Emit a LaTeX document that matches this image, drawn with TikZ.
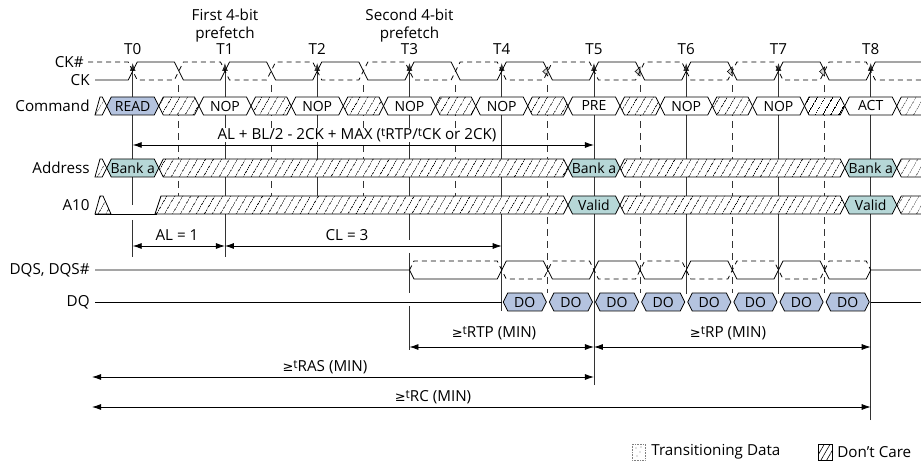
\documentclass[tikz,border=0pt]{standalone}
\usepackage{fontspec}
\setmainfont{Open Sans}
\newfontfamily\symfont{DejaVu Sans}
\usepackage{tikz}
\usetikzlibrary{arrows.meta, patterns.meta, positioning}

\definecolor{cmdblue}{HTML}{B4C3DF}
\definecolor{bankteal}{HTML}{B6D7D7}

\def\tzero{132.7}
\def\tper{92.25}
\def\thalf{46.125}
\newcommand{\sigbox}[3]{({#1},#3) -- ({#1+4.5},{#3-9}) -- ({#2-4.5},{#3-9}) -- ({#2},#3) -- ({#2-4.5},{#3+9}) -- ({#1+4.5},{#3+9}) -- cycle}
\newcommand{\tpre}{\raisebox{.35ex}{\fontsize{12}{12}\selectfont t}}
\newcommand{\gemin}{{\symfont\fontsize{13}{13}\selectfont ≥}}

\begin{document}
\begin{tikzpicture}[x=1pt, y=-1pt, line width=0.8pt,
    lbl/.style={anchor=east, inner sep=0pt, font=\fontsize{15.2}{18}\selectfont},
    txt/.style={inner sep=1pt, font=\fontsize{15.2}{18}\selectfont},
    boxtxt/.style={inner sep=0pt, font=\fontsize{14}{16}\selectfont},
    dontcare/.style={draw, preaction={fill=white}, pattern={Lines[angle=60, distance=6.5pt, line width=0.6pt]}},
    edgemark/.style={black!80, -{Latex[length=8pt, width=6pt]}},
    halfmark/.style={black!80, dash pattern=on 7pt off 5pt},
    dim/.style={{Latex[length=9pt, width=6pt]}-{Latex[length=9pt, width=6pt]}}
]
\useasboundingbox (0,0) rectangle (921,462);

% Clock edges
\foreach \n in {0,...,8} \coordinate (T\n) at ({\tzero+\n*\tper},0);
\foreach \n in {0,...,8} \node[txt] (lbT\n) at ({\tzero+\n*\tper},49) {T\n};
\node[txt, align=center] (pf1) at (T1 |- 0,26) {First 4-bit\\prefetch};
\node[txt, align=center] (pf2) at (T3 |- 0,26) {Second 4-bit\\prefetch};

% Reference lines
\foreach \n/\e in {1/257,2/196,4/311,5/385,6/294,7/294,8/420}
  \draw[edgemark] (T\n |- 0,\e) -- (T\n |- 0,63);
\draw[edgemark] (T0 |- 0,205) -- (T0 |- 0,63);
\draw[black!80] (T0 |- 0,220) -- (T0 |- 0,257);
\draw[edgemark] (T3 |- 0,240) -- (T3 |- 0,63);
\draw[black!80] (T3 |- 0,253) -- (T3 |- 0,293) (T3 |- 0,306) -- (T3 |- 0,350);
\foreach \n/\e in {0/196,1/196,2/196,3/196,4/293,5/293,6/293,7/293}
  \draw[halfmark] ({\tzero+(\n+0.5)*\tper},85) -- ({\tzero+(\n+0.5)*\tper},\e);
\foreach \n in {4,...,7}
  \draw[fill=gray!35, line width=0.5pt] ({\tzero+(\n+0.5)*\tper},67) -- ++(0,9) -- ++(-5,-4.5) -- cycle;

% Row labels
\node[lbl] (lck2) at (84,62) {CK\#};
\node[lbl] (lck) at (90,80) {CK};
\node[lbl] (lcmd) at (90,106) {Command};
\node[lbl] (ladr) at (90,168) {Address};
\node[lbl] (la10) at (90,205) {A10};
\node[lbl] (ldqs) at (90,270) {DQS, DQS\#};
\node[lbl] (ldq) at (90,302) {DQ};

% CK and CK#
\draw (95,80) \foreach \n in {0,...,7} { -- ({\tzero+\n*\tper-4.5},80) -- ({\tzero+\n*\tper+4.5},62) -- ({\tzero+(\n+.5)*\tper-4.5},62) -- ({\tzero+(\n+.5)*\tper+4.5},80) } -- ({\tzero+8*\tper-4.5},80) -- ({\tzero+8*\tper+4.5},62) -- (921,62);
\draw[dash pattern=on 5pt off 4pt] (88,62) \foreach \n in {0,...,7} { -- ({\tzero+\n*\tper-4.5},62) -- ({\tzero+\n*\tper+4.5},80) -- ({\tzero+(\n+.5)*\tper-4.5},80) -- ({\tzero+(\n+.5)*\tper+4.5},62) } -- ({\tzero+8*\tper-4.5},62) -- ({\tzero+8*\tper+4.5},80) -- (921,80);

% Command
\path[dontcare] (95,115) -- (100,97) -- ({\tzero-30.5},97) -- ({\tzero-26},106) -- ({\tzero-30.5},115) -- cycle;
\foreach \n in {0,...,8} \path[dontcare] \sigbox{\tzero+\n*\tper+26}{\tzero+(\n+1)*\tper-26}{106};
\foreach \n/\t/\f in {0/READ/cmdblue,1/NOP/white,2/NOP/white,3/NOP/white,4/NOP/white,5/PRE/white,6/NOP/white,7/NOP/white,8/ACT/white} {
  \draw[fill=\f] \sigbox{\tzero+\n*\tper-26}{\tzero+\n*\tper+26}{106};
  \node[boxtxt] (cmd\n) at ({\tzero+\n*\tper},106) {\t};
}

% Address
\path[dontcare] (95,177) -- (100,159) -- ({\tzero-30.5},159) -- ({\tzero-26},168) -- ({\tzero-30.5},177) -- cycle;
\path[dontcare] \sigbox{\tzero+26}{\tzero+5*\tper-26}{168};
\path[dontcare] \sigbox{\tzero+5*\tper+26}{\tzero+8*\tper-26}{168};
\path[dontcare] \sigbox{\tzero+8*\tper+26}{\tzero+9*\tper}{168};
\foreach \n in {0,5,8} {
  \draw[fill=bankteal] \sigbox{\tzero+\n*\tper-26}{\tzero+\n*\tper+26}{168};
  \node[boxtxt] (adr\n) at ({\tzero+\n*\tper},168) {Bank a};
}

% A10
\path[dontcare] (95,214) -- (100,196) -- (103,196) -- (111,214) -- cycle;
\draw (95,214) -- (157,214);
\path[dontcare] (155,214) -- (161,196) -- ({\tzero+5*\tper-30.5},196) -- ({\tzero+5*\tper-26},205) -- ({\tzero+5*\tper-30.5},214) -- cycle;
\path[dontcare] \sigbox{\tzero+5*\tper+26}{\tzero+8*\tper-26}{205};
\path[dontcare] \sigbox{\tzero+8*\tper+26}{\tzero+9*\tper}{205};
\foreach \n in {5,8} {
  \draw[fill=bankteal] \sigbox{\tzero+\n*\tper-26}{\tzero+\n*\tper+26}{205};
  \node[boxtxt] (a10v\n) at ({\tzero+\n*\tper},205) {Valid};
}

% DQS, DQS#
\draw (95,270) -- (T3 |- 0,270) -- ({\tzero+3*\tper+4.5},279) -- ({\tzero+4*\tper-4.5},279)
  \foreach \k/\lv in {0/261,1/279,2/261,3/279,4/261,5/279,6/261,7/279} { -- ({\tzero+4*\tper+\k*\thalf+4.5},\lv) -- ({\tzero+4*\tper+(\k+1)*\thalf-4.5},\lv) }
  -- (T8 |- 0,270) -- (921,270);
\draw[dash pattern=on 5pt off 4pt] (T3 |- 0,270) -- ({\tzero+3*\tper+4.5},261) -- ({\tzero+4*\tper-4.5},261)
  \foreach \k/\lv in {0/279,1/261,2/279,3/261,4/279,5/261,6/279,7/261} { -- ({\tzero+4*\tper+\k*\thalf+4.5},\lv) -- ({\tzero+4*\tper+(\k+1)*\thalf-4.5},\lv) }
  -- (T8 |- 0,270);

% DQ
\draw (95,302) -- (T4 |- 0,302);
\draw (T8 |- 0,302) -- (921,302);
\foreach \k in {0,...,7} {
  \draw[fill=cmdblue] \sigbox{\tzero+4*\tper+\k*\thalf+1.5}{\tzero+4*\tper+(\k+1)*\thalf-1.5}{302};
  \node[boxtxt] (do\k) at ({\tzero+4*\tper+(\k+0.5)*\thalf},302) {DO};
}

% Timing parameters
\draw[dim] (T0 |- 0,145) -- (T5 |- 0,145);
\node[txt, fill=white, inner sep=0.5pt] (tmax) at (357,135) {AL + BL/2 - 2CK + MAX (\tpre RTP/\tpre CK or 2CK)};
\draw[dim] (T0 |- 0,246) -- (T1 |- 0,246);
\node[txt] (tal) at (177,235) {AL = 1};
\draw[dim] (T1 |- 0,246) -- (T4 |- 0,246);
\node[txt] (tcl) at (347,235) {CL = 3};
\draw[dim] (T3 |- 0,347) -- (T5 |- 0,347);
\node[txt] (trtp) at (494,333) {\gemin\tpre RTP (MIN)};
\draw[dim] (T5 |- 0,347) -- (T8 |- 0,347);
\node[txt] (trp) at (728,333) {\gemin\tpre RP (MIN)};
\coordinate (ras0) at (92,377);
\draw[dim] (ras0) -- (T5 |- 0,377);
\node[txt] (tras) at (325,367) {\gemin\tpre RAS (MIN)};
\coordinate (rc0) at (92,407);
\draw[dim] (rc0) -- (T8 |- 0,407);
\node[txt] (trc) at (433,397) {\gemin\tpre RC (MIN)};

% Legend
\draw[gray, line width=0.6pt, densely dotted] (632,444) rectangle (645,460);
\fill[gray] (636,448) circle (0.7) (640,452) circle (0.7) (637,456) circle (0.7) (641,447) circle (0.7);
\node[txt, anchor=west] (lgtd) at (650,452) {Transitioning Data};
\path[draw, line width=0.6pt, pattern={Lines[angle=60, distance=5pt, line width=0.6pt]}] (818,444) rectangle (832,460);
\node[txt, anchor=west] (lgdc) at (836,452) {Don't Care};

\end{tikzpicture}
\end{document}
